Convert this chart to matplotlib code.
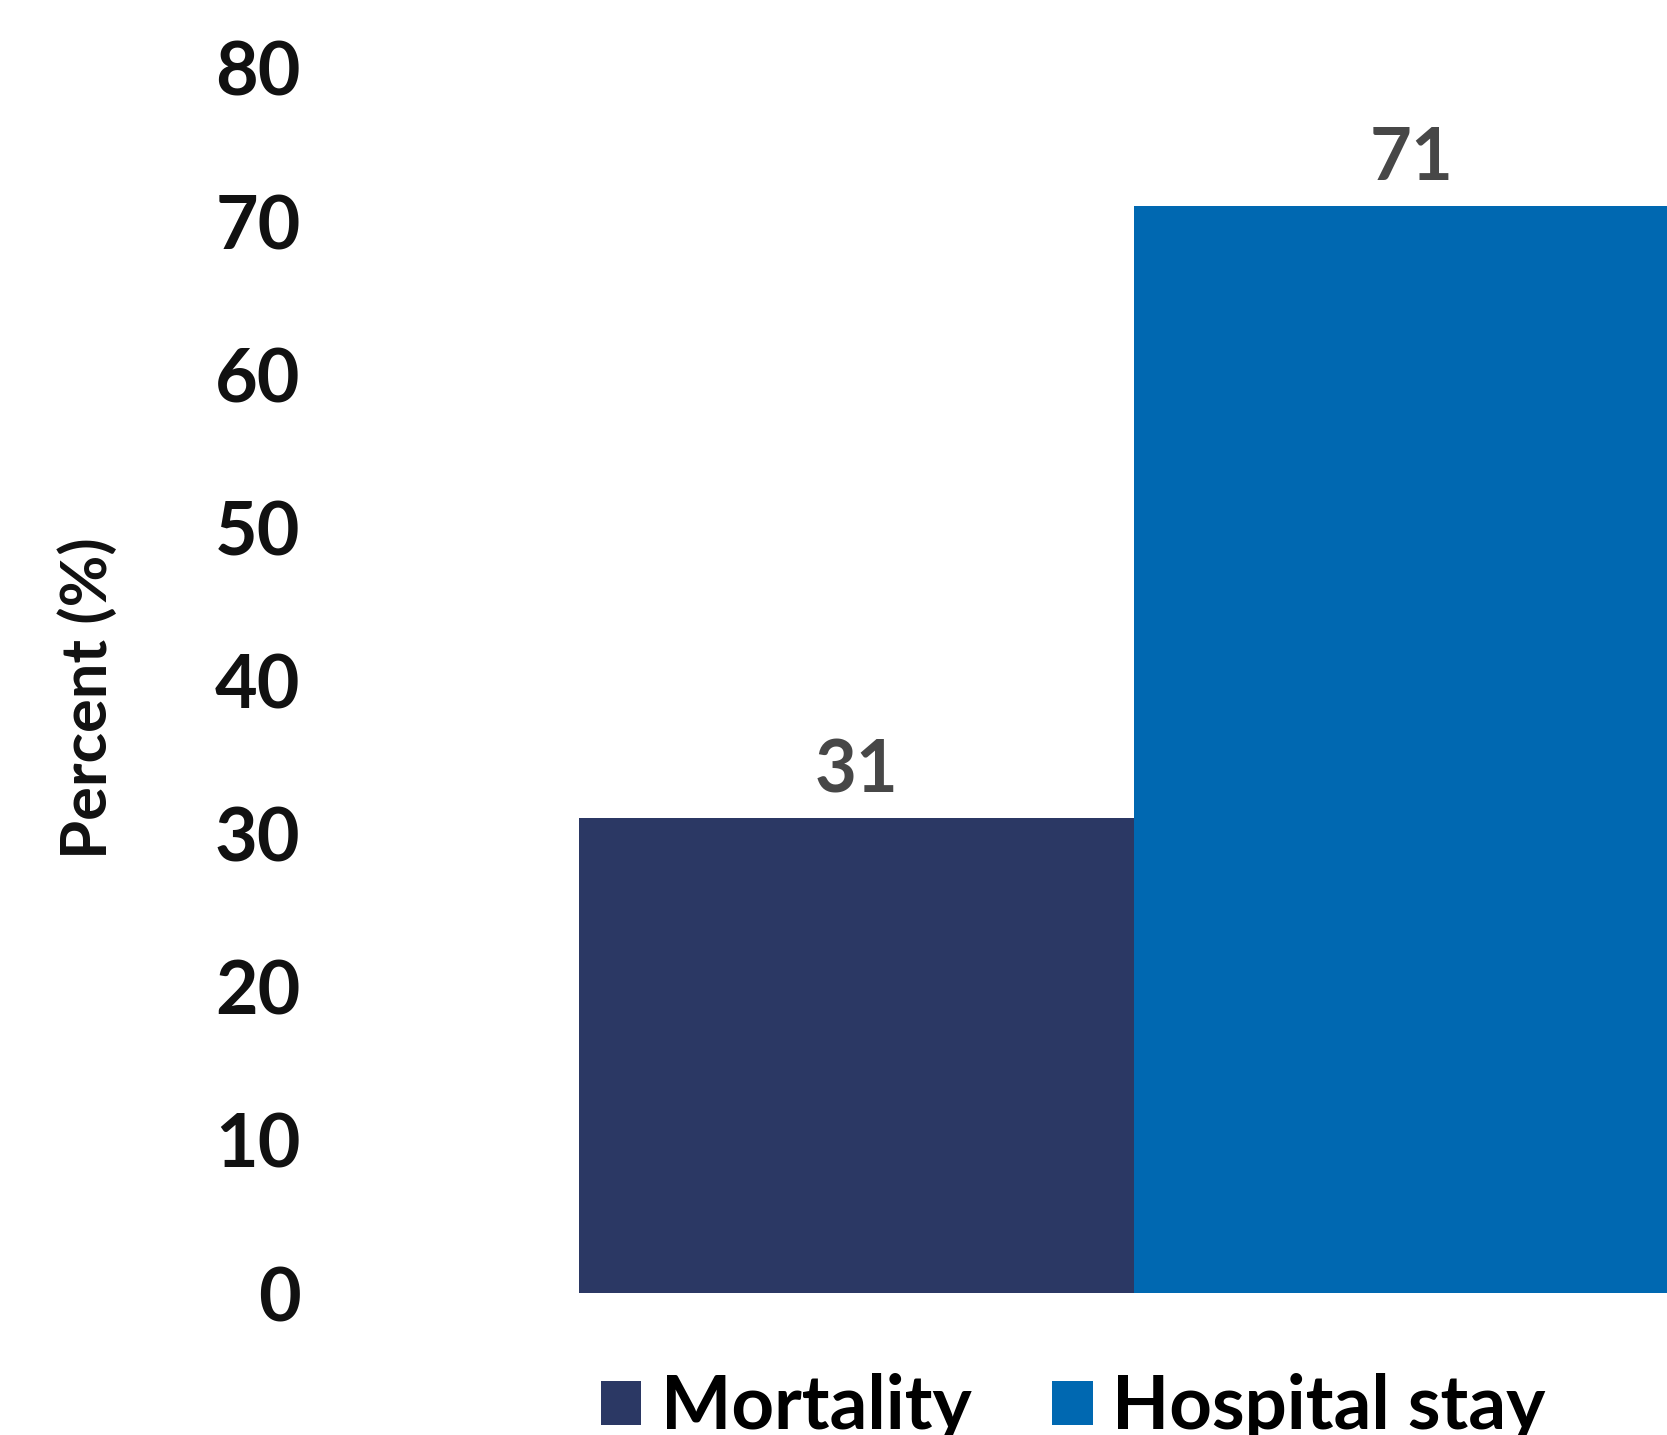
import matplotlib
matplotlib.use("Agg")
import matplotlib.pyplot as plt

plt.rcParams["font.family"] = ["Lato", "DejaVu Sans"]
plt.rcParams["font.weight"] = "bold"

# Данные
categories = ["Mortality", "Hospital stay"]
values = [31, 71]
colors = ["#2B3864", "#0068B1"]
y_ticks = [0, 10, 20, 30, 40, 50, 60, 70, 80]

W, H = 1667, 1435
fig = plt.figure(figsize=(W / 100, H / 100), dpi=100)

# Оси: слева от подписей до правого края рисунка
left_px, right_px = 320, W
top_px, bottom_px = 68, 1293
ax = fig.add_axes([left_px / W, 1 - bottom_px / H,
                   (right_px - left_px) / W, (bottom_px - top_px) / H])

px_per_unit = 555
bar_left0 = 579
x_min = -0.5 - (bar_left0 - left_px) / px_per_unit
x_max = -0.5 + (right_px - bar_left0) / px_per_unit

for i, (cat, val, col) in enumerate(zip(categories, values, colors)):
    ax.bar(i, val, width=1.0, color=col, label=cat)
    ax.text(i, val + 0.85, str(val), ha="center", va="bottom",
            fontsize=52, fontweight="bold", color="#474747")

ax.set_xlim(x_min, x_max)
ax.set_ylim(0, 80)
ax.set_yticks(y_ticks)
ax.set_yticklabels([str(t) for t in y_ticks], fontsize=53,
                   fontweight="bold", color="#111111")
ax.tick_params(axis="y", length=0, pad=14)
ax.set_xticks([])
for s in ax.spines.values():
    s.set_visible(False)

# Подпись оси Y
fig.text(88 / W, 1 - 698 / H, "Percent (%)", rotation=90,
         ha="center", va="center", fontsize=45.5, fontweight="bold",
         color="#111111")

# Легенда (нижняя часть текста обрезана краем, как в оригинале)
fig.legend(loc="center left", bbox_to_anchor=(601 / W, 1 - 1408 / H),
           ncol=2, frameon=False, handlelength=0.54,
           handleheight=0.54, handletextpad=0.26, columnspacing=1.09,
           borderpad=0, borderaxespad=0,
           prop={"weight": "bold", "size": 53.6})

fig.savefig("out.png", dpi=100)
plt.close(fig)
